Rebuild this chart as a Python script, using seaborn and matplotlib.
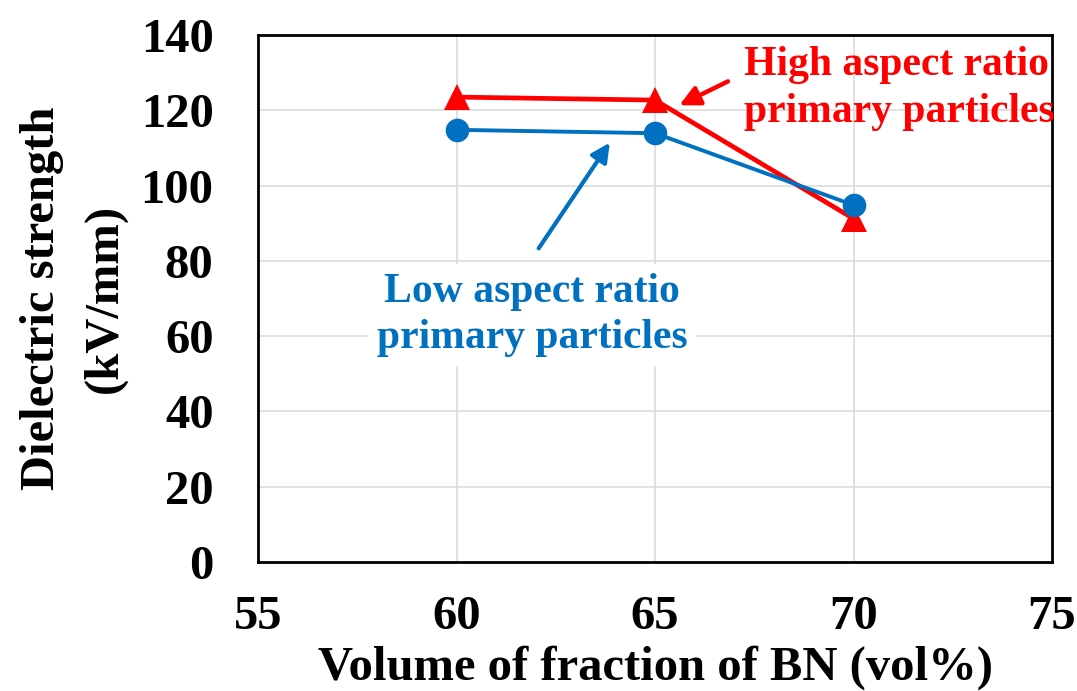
import matplotlib
matplotlib.use("Agg")
import matplotlib.pyplot as plt
import seaborn as sns
import pandas as pd

# BN volume fraction (vol%) and measured dielectric strength (kV/mm)
bn_fraction = [60, 65, 70]
high_aspect = [123.5, 122.7, 91.2]
low_aspect = [114.8, 113.9, 94.8]

x_ticks = [55, 60, 65, 70, 75]
y_ticks = [0, 20, 40, 60, 80, 100, 120, 140]

RED = "#FF0000"
BLUE = "#0070C0"

sns.set_theme(style="white")
plt.rcParams["font.family"] = ["Liberation Serif", "DejaVu Serif"]
plt.rcParams["font.weight"] = "bold"
plt.rcParams["text.color"] = "black"
plt.rcParams["axes.labelcolor"] = "black"
plt.rcParams["xtick.color"] = "black"
plt.rcParams["ytick.color"] = "black"

fig = plt.figure(figsize=(10.77, 6.91), dpi=100)
ax = fig.add_axes([0.2396, 0.1867, 0.7372, 0.7627])

df_high = pd.DataFrame({"x": bn_fraction, "y": high_aspect})
df_low = pd.DataFrame({"x": bn_fraction, "y": low_aspect})

sns.lineplot(data=df_high, x="x", y="y", ax=ax, color=RED, linewidth=3.4,
             marker="^", markersize=19, markeredgewidth=0, zorder=3)
sns.lineplot(data=df_low, x="x", y="y", ax=ax, color=BLUE, linewidth=2.8,
             marker="o", markersize=17, markeredgewidth=0, zorder=4)

ax.set_xlim(55, 75)
ax.set_ylim(0, 140)
ax.set_xticks(x_ticks)
ax.set_yticks(y_ticks)
ax.set_xticklabels([str(v) for v in x_ticks], fontsize=35, fontweight="bold")
ax.set_yticklabels([str(v) for v in y_ticks], fontsize=35, fontweight="bold")
ax.tick_params(axis="x", length=0, pad=24)
ax.tick_params(axis="y", length=0, pad=32)

# light grid: horizontal every 20, vertical at the measured fractions
for yv in y_ticks[1:-1]:
    ax.axhline(yv, color="#DCDCDC", linewidth=1.2, zorder=0)
for xv in bn_fraction:
    ax.axvline(xv, color="#DCDCDC", linewidth=1.2, zorder=0)

for s in ax.spines.values():
    s.set_visible(True)
    s.set_color("black")
    s.set_linewidth(2.0)

ax.set_xlabel("Volume of fraction of BN (vol%)", fontsize=35, fontweight="bold",
              labelpad=4)
ax.set_ylabel("Dielectric strength\n(kV/mm)", fontsize=35, fontweight="bold",
              labelpad=10, linespacing=1.53)

# series annotations
ax.text(67.25, 125.7, "High aspect ratio\nprimary particles", color=RED,
        fontsize=30, fontweight="bold", ha="left", va="center", linespacing=1.3,
        zorder=6)
ax.annotate("", xy=(65.55, 121.0), xytext=(66.9, 128.0),
            arrowprops=dict(arrowstyle="-|>", color=RED, lw=3.2,
                            mutation_scale=30), zorder=6)

ax.text(61.9, 65.6, "Low aspect ratio\nprimary particles", color=BLUE,
        fontsize=30, fontweight="bold", ha="center", va="center", linespacing=1.3,
        bbox=dict(facecolor="white", edgecolor="none", pad=6), zorder=5)
ax.annotate("", xy=(63.9, 112.0), xytext=(62.03, 82.7),
            arrowprops=dict(arrowstyle="-|>", color=BLUE, lw=3.0,
                            mutation_scale=28), zorder=6)

fig.savefig("out.png", dpi=100, facecolor="white")
